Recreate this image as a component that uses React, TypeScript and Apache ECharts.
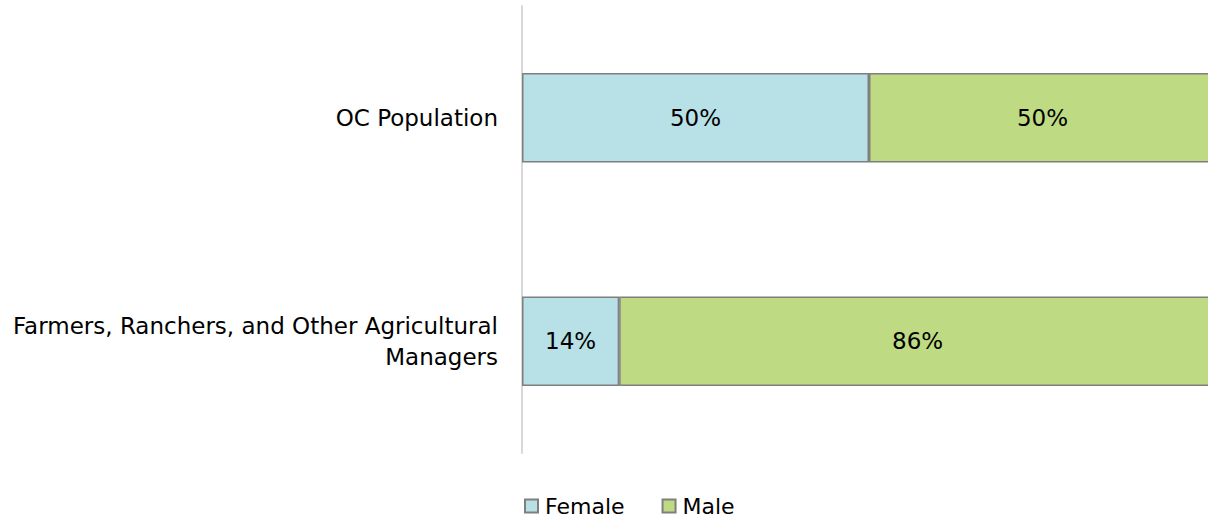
import React, { useEffect, useRef } from "react";
import * as echarts from "echarts";

const categories = ["OC Population", "Farmers, Ranchers, and Other Agricultural\nManagers"];
const femaleValues = [50, 14];
const maleValues = [50, 86];
const seriesNames = ["Female", "Male"];

const FONT = "'DejaVu Sans', sans-serif";

export default function App() {
  const ref = useRef<HTMLDivElement>(null);
  useEffect(() => {
    if (!ref.current) return;
    const chart = echarts.init(ref.current, null, { renderer: "svg" });
    const labelCfg = {
      show: true,
      position: "inside",
      formatter: (p: any) => `${p.value}%`,
      color: "#000",
      fontSize: 23,
      fontFamily: FONT,
    };
    chart.setOption({
      animation: false,
      textStyle: { fontFamily: FONT },
      grid: { left: 522, right: 0, top: 6, bottom: 69, containLabel: false },
      xAxis: {
        type: "value",
        min: 0,
        max: 100,
        show: false,
      },
      yAxis: {
        type: "category",
        data: categories,
        inverse: true,
        axisLine: { show: true, lineStyle: { color: "#d9d9d9", width: 2 } },
        axisTick: { show: false },
        axisLabel: {
          color: "#000",
          fontSize: 23,
          fontFamily: FONT,
          margin: 24,
          align: "right",
          lineHeight: 31,
        },
      },
      legend: {
        data: seriesNames,
        left: 519,
        top: 490,
        icon: "rect",
        itemWidth: 13,
        itemHeight: 13,
        itemGap: 37,
        textStyle: { fontSize: 22, color: "#000", fontFamily: FONT, padding: [0, 0, 0, 2] },
      },
      series: [
        {
          name: seriesNames[0],
          type: "bar",
          stack: "total",
          data: femaleValues,
          barWidth: "40%",
          itemStyle: { color: "#B7E0E7", borderColor: "#7f7f7f", borderWidth: 1.5 },
          label: labelCfg,
        },
        {
          name: seriesNames[1],
          type: "bar",
          stack: "total",
          data: maleValues,
          barWidth: "40%",
          itemStyle: { color: "#BEDA82", borderColor: "#7f7f7f", borderWidth: 1.5 },
          label: labelCfg,
        },
      ],
    });
    return () => chart.dispose();
  }, []);
  return (
    <div style={{ position: "fixed", left: 0, top: 0, width: 1208, height: 522, overflow: "hidden", background: "#fff" }}>
      <div ref={ref} style={{ width: 1216, height: 522 }} />
    </div>
  );
}
